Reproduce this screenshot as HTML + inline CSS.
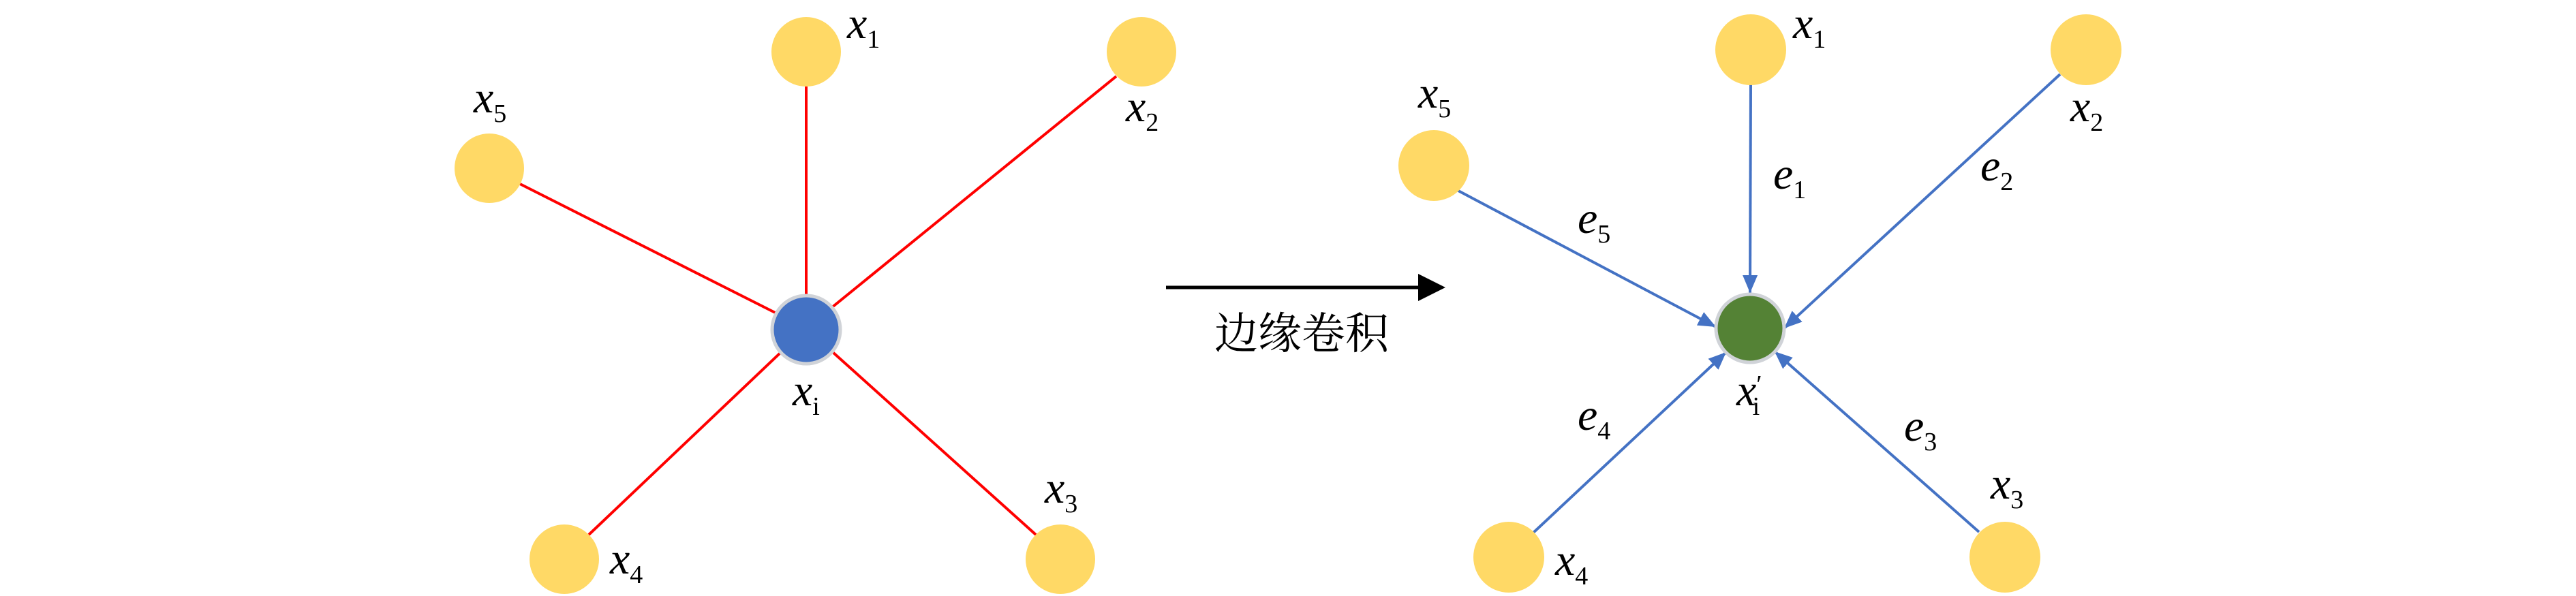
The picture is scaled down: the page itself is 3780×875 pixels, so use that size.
<!DOCTYPE html>
<html><head><meta charset="utf-8"><style>
html,body{margin:0;padding:0;background:#fff;}
svg{display:block;}
text{font-family:"Liberation Serif",serif;fill:#000;}
.x{font-family:"Liberation Serif",serif;font-style:italic;font-size:66px;}
.s{font-family:"Liberation Serif",serif;font-style:normal;font-size:38px;}
.cn{font-family:"Noto Serif CJK SC","Noto Sans CJK SC",serif;font-size:64px;}
</style></head><body>
<svg width="3780" height="875" viewBox="0 0 3780 875" xmlns="http://www.w3.org/2000/svg">
<defs>
<marker id="ah" markerWidth="26" markerHeight="22" refX="26" refY="11" orient="auto" markerUnits="userSpaceOnUse">
<path d="M0,0 L26,11 L0,22 Z" fill="#4472C4"/>
</marker>
</defs>
<g stroke="#FF0000" stroke-width="4">
<line x1="1183" y1="127" x2="1183" y2="482"/>
<line x1="1638" y1="112" x2="1183" y2="482"/>
<line x1="763" y1="270" x2="1183" y2="482"/>
<line x1="864" y1="785" x2="1183" y2="482"/>
<line x1="1520" y1="785" x2="1183" y2="482"/>
</g>
<g fill="#FFD966">
<circle cx="1183" cy="76" r="51"/>
<circle cx="1675" cy="76" r="51"/>
<circle cx="718" cy="247" r="51"/>
<circle cx="828" cy="821" r="51"/>
<circle cx="1556" cy="821" r="51"/>
</g>
<circle cx="1183" cy="484" r="50" fill="#4472C4" stroke="#D0D3D8" stroke-width="5"/>
<text class="x" x="1243" y="56">x<tspan class="s" dy="14">1</tspan></text>
<text class="x" x="1652" y="178">x<tspan class="s" dy="14">2</tspan></text>
<text class="x" x="695" y="165">x<tspan class="s" dy="14">5</tspan></text>
<text class="x" x="895" y="842">x<tspan class="s" dy="14">4</tspan></text>
<text class="x" x="1533" y="738">x<tspan class="s" dy="14">3</tspan></text>
<text class="x" x="1163" y="595">x<tspan class="s" font-style="italic" dy="14">i</tspan></text>

<line x1="1711" y1="422" x2="2085" y2="422" stroke="#000" stroke-width="5"/>
<path d="M2081,402 L2121,422 L2081,442 Z" fill="#000"/>
<text class="cn" x="1782" y="512">边缘卷积</text>

<g stroke="#4472C4" stroke-width="4" marker-end="url(#ah)">
<line x1="2569" y1="124" x2="2568" y2="430"/>
<line x1="3023" y1="109" x2="2618" y2="482"/>
<line x1="2138" y1="279" x2="2518" y2="480"/>
<line x1="2250" y1="782" x2="2533" y2="517"/>
<line x1="2904" y1="781" x2="2604" y2="516"/>
</g>
<g fill="#FFD966">
<circle cx="2569" cy="73" r="52"/>
<circle cx="3061" cy="73" r="52"/>
<circle cx="2104" cy="243" r="52"/>
<circle cx="2214" cy="818" r="52"/>
<circle cx="2942" cy="818" r="52"/>
</g>
<circle cx="2568" cy="482" r="50" fill="#548235" stroke="#D0D3D8" stroke-width="5"/>
<text class="x" x="2631" y="56">x<tspan class="s" dy="14">1</tspan></text>
<text class="x" x="3038" y="178">x<tspan class="s" dy="14">2</tspan></text>
<text class="x" x="2081" y="158">x<tspan class="s" dy="14">5</tspan></text>
<text class="x" x="2282" y="844">x<tspan class="s" dy="14">4</tspan></text>
<text class="x" x="2921" y="732">x<tspan class="s" dy="14">3</tspan></text>
<text class="x" x="2548" y="595">x<tspan class="s" font-style="italic" font-size="46" dy="-18">′</tspan><tspan class="s" font-style="italic" dx="-14" dy="32">i</tspan></text>
<text class="x" x="2602" y="277">e<tspan class="s" dy="14">1</tspan></text>
<text class="x" x="2906" y="265">e<tspan class="s" dy="14">2</tspan></text>
<text class="x" x="2315" y="342">e<tspan class="s" dy="14">5</tspan></text>
<text class="x" x="2315" y="631">e<tspan class="s" dy="14">4</tspan></text>
<text class="x" x="2794" y="647">e<tspan class="s" dy="14">3</tspan></text>
</svg>
</body></html>
